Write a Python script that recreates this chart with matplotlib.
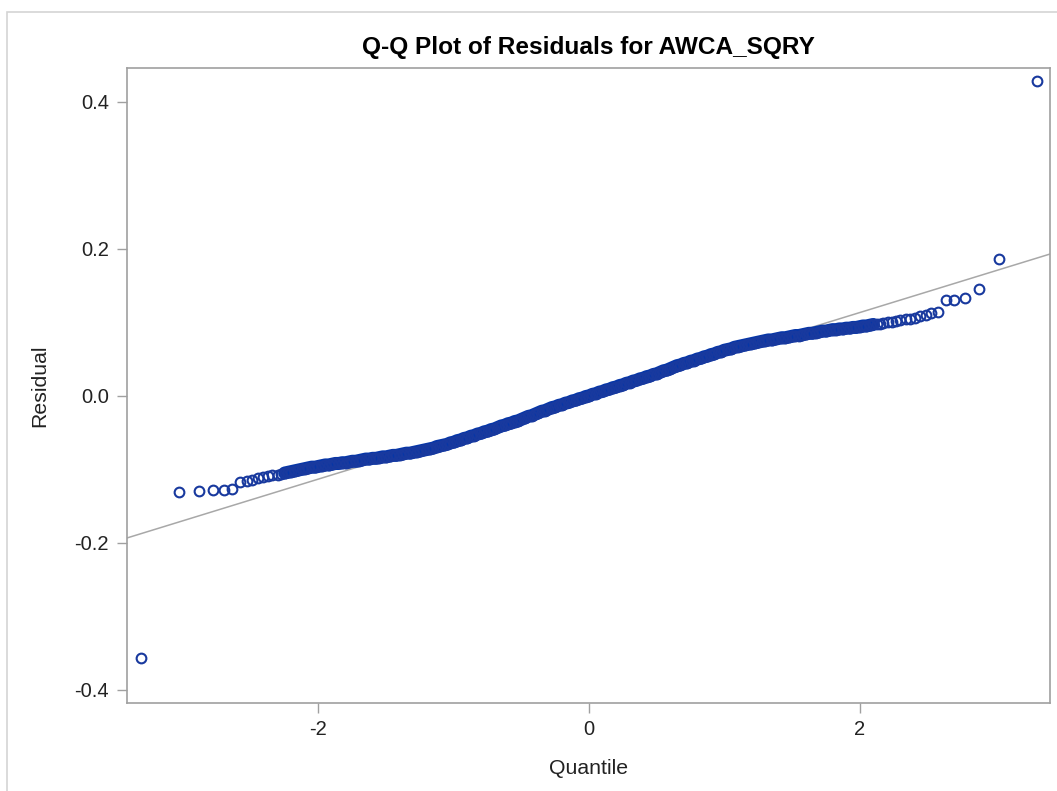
"""Q-Q plot of regression residuals for AWCA_SQRY."""
import numpy as np
import matplotlib
matplotlib.use('Agg')
from matplotlib import pyplot as plt
from matplotlib.patches import Rectangle

# Lower tail, one entry per observation (normal quantile, residual)
low_quantiles = [-3.31, -3.03, -2.885, -2.78, -2.70, -2.636, -2.58, -2.53,
                 -2.49, -2.447, -2.41, -2.375, -2.34]
low_residuals = [-0.356, -0.131, -0.129, -0.128, -0.128, -0.127, -0.117,
                 -0.116, -0.115, -0.112, -0.110, -0.109, -0.108]

# Dense middle of the distribution, read every 0.025 in quantile
mid_start, mid_step = -2.30, 0.025
mid_residuals = [
    -0.107, -0.106, -0.105, -0.104, -0.103, -0.102, -0.101, -0.100,
    -0.099, -0.098, -0.097, -0.097, -0.096, -0.095, -0.094, -0.094,
    -0.093, -0.092, -0.092, -0.091, -0.091, -0.090, -0.089, -0.089,
    -0.088, -0.087, -0.086, -0.086, -0.085, -0.085, -0.084, -0.083,
    -0.083, -0.082, -0.081, -0.081, -0.080, -0.079, -0.078, -0.078,
    -0.077, -0.076, -0.075, -0.074, -0.073, -0.072, -0.071, -0.069,
    -0.068, -0.067, -0.066, -0.064, -0.063, -0.061, -0.060, -0.058,
    -0.057, -0.055, -0.054, -0.052, -0.051, -0.049, -0.048, -0.046,
    -0.045, -0.043, -0.041, -0.040, -0.038, -0.037, -0.035, -0.034,
    -0.032, -0.030, -0.028, -0.027, -0.025, -0.023, -0.021, -0.020,
    -0.018, -0.016, -0.015, -0.013, -0.012, -0.010, -0.009, -0.007,
    -0.006, -0.004, -0.003, -0.001,
    0.000, 0.002, 0.003, 0.005, 0.006, 0.008, 0.009, 0.011,
    0.012, 0.014, 0.015, 0.017, 0.018, 0.020, 0.021, 0.023,
    0.024, 0.026, 0.027, 0.029, 0.030, 0.032, 0.034, 0.035,
    0.037, 0.039, 0.041, 0.042, 0.044, 0.045, 0.047, 0.048,
    0.050, 0.051, 0.053, 0.054, 0.056, 0.057, 0.059, 0.060,
    0.062, 0.063, 0.064, 0.066, 0.067, 0.068, 0.069, 0.070,
    0.071, 0.072, 0.073, 0.074, 0.075, 0.076, 0.076, 0.077,
    0.078, 0.079, 0.079, 0.080, 0.081, 0.082, 0.082, 0.083,
    0.084, 0.085, 0.085, 0.086, 0.087, 0.088, 0.088, 0.089,
    0.090, 0.090, 0.091, 0.091, 0.092, 0.092, 0.093, 0.093,
    0.094, 0.095, 0.095, 0.096, 0.097, 0.098, 0.098, 0.099,
]
mid_quantiles = np.round(mid_start + mid_step * np.arange(len(mid_residuals)), 3)

# Upper tail
high_quantiles = [2.21, 2.24, 2.27, 2.30, 2.34, 2.375, 2.41, 2.447, 2.49,
                  2.53, 2.58, 2.636, 2.70, 2.78, 2.885, 3.03, 3.31]
high_residuals = [0.100, 0.101, 0.102, 0.103, 0.104, 0.105, 0.106, 0.108,
                  0.110, 0.112, 0.114, 0.130, 0.130, 0.133, 0.145, 0.186, 0.428]

# Reference line: mean and standard deviation of the residuals
res_mean = 0.0
res_std = 0.0566

x_ticks = [-2, 0, 2]
y_ticks = [-0.4, -0.2, 0.0, 0.2, 0.4]

quantiles = np.concatenate([low_quantiles, mid_quantiles, high_quantiles])
residuals = np.concatenate([low_residuals, mid_residuals, high_residuals])

plt.rcParams['font.family'] = ['Liberation Sans', 'DejaVu Sans']
plt.rcParams['axes.unicode_minus'] = False

fig = plt.figure(figsize=(10.57, 7.91), dpi=100)
ax = fig.add_axes([0.1202, 0.1113, 0.8732, 0.8028])

# Light outer border around the graph
fig.patches.append(Rectangle((7 / 1057, -0.05), 1.2, 1 - 12 / 791 + 0.05,
                             transform=fig.transFigure, fill=False,
                             edgecolor='#d4d4d4', linewidth=1.2))

ax.axline((0, res_mean), slope=res_std, color='#a8a8a8', linewidth=1.1, zorder=1)

# Where the points pile up the circles merge into one solid band
dense = (mid_quantiles >= -2.25) & (mid_quantiles <= 2.10)
ax.plot(mid_quantiles[dense], np.asarray(mid_residuals)[dense], color='#0636a8',
        linewidth=9.4, solid_capstyle='round', solid_joinstyle='round', zorder=2)
ax.plot(quantiles, residuals, linestyle='none', marker='o', markersize=7.0,
        markerfacecolor='none', markeredgecolor='#18399e',
        markeredgewidth=1.5, zorder=3)

ax.set_xlim(-3.415, 3.407)
ax.set_ylim(-0.4177, 0.4459)
ax.set_xticks(x_ticks)
ax.set_xticklabels([str(t) for t in x_ticks])
ax.set_yticks(y_ticks)
ax.set_yticklabels([f'{t:.1f}' for t in y_ticks])

for spine in ax.spines.values():
    spine.set_color('#a0a0a0')
    spine.set_linewidth(1.2)
ax.tick_params(axis='both', direction='out', length=7, width=1,
               color='#a0a0a0', labelsize=14.5, labelcolor='#222222')
ax.tick_params(axis='x', pad=5)
ax.tick_params(axis='y', pad=6)

ax.set_title('Q-Q Plot of Residuals for AWCA_SQRY', fontsize=17.6,
             fontweight='bold', pad=10)
ax.set_xlabel('Quantile', fontsize=15.3, color='#222222', labelpad=15)
ax.set_ylabel('Residual', fontsize=15.3, color='#222222', labelpad=18)

fig.savefig('out.png', dpi=100)
